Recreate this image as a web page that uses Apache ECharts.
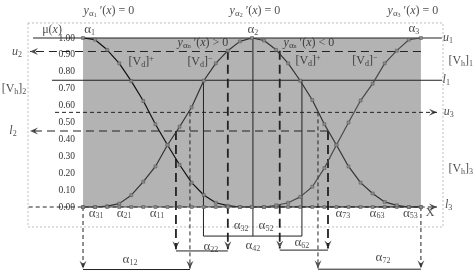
<!DOCTYPE html>
<html><head><meta charset="utf-8">
<script src="https://cdn.jsdelivr.net/npm/echarts@6/dist/echarts.min.js"></script>
<style>html,body{margin:0;padding:0;background:#fff}#c{width:474px;height:272px}</style>
</head><body><div id="c"></div>
<script>
// ---- data ----
const xSamples = [0,1,2,3,4,5,6,7,8,9,10,11,12,13,14,15,16,17,18,19,20,21,22,23,24,25,26,27,28];
const mu1 = [1.00,0.99,0.93,0.85,0.745,0.627,0.49,0.367,0.25,0.144,0.071,0.025,0.008,0,0,0,0,0,0,0,0,0,0,0,0,0,0,0,0];
const mu2 = [0,0,0.005,0.02,0.07,0.15,0.24,0.367,0.475,0.59,0.747,0.85,0.925,0.98,1.00,0.985,0.93,0.85,0.747,0.633,0.49,0.367,0.24,0.144,0.08,0.03,0.01,0,0];
const mu3 = [0,0,0,0,0,0,0,0,0,0,0,0,0,0,0,0,0.01,0.025,0.06,0.12,0.23,0.367,0.50,0.63,0.73,0.85,0.925,0.99,1.00];
const yTickValues = [0,0.1,0.2,0.3,0.4,0.5,0.6,0.7,0.8,0.9,1.0];
const shadedBox = [[0,1.0],[28,1.0]];           // grey region: x 0..28, mu 0..1
const xExtent = [-4.56, 29.83];                 // frame extent on x

// reference segments: [x1, y1, x2, y2, arrowAtEnd]
const solidSegments = [
  [-4.14,1.0,29.74,1.0,0],      // u1
  [-2.57,0.75,29.74,0.75,0],    // l1
  [9.98,0.75,9.98,-0.172,0],
  [14.08,1.0,14.08,-0.172,0],
  [18.14,0.75,18.14,-0.172,0],
  [9.98,-0.172,18.14,-0.172,0],
  [7.7,-0.26,12.0,-0.26,0],     // alpha22
  [16.3,-0.255,20.3,-0.255,0],  // alpha62
  [0,-0.37,8.86,-0.37,0],       // alpha12
  [19.47,-0.368,28,-0.368,0]    // alpha72
];
const longDashH = [
  [28,0.92,-4.39,0.92,1],       // u2
  [20.3,0.45,-4.39,0.45,1]      // l2
];
const longDashV = [
  [7.7,0.45,7.7,-0.25,1],
  [12.0,0.925,12.0,-0.25,1],
  [16.3,0.925,16.3,-0.245,1],
  [20.3,0.45,20.3,-0.245,1]
];
const shortDash = [
  [-2.32,0.56,29.33,0.56,1],    // u3
  [-4.5,0,29.33,0,1],           // l3
  [8.86,0.56,8.86,-0.365,1],
  [19.47,0.56,19.47,-0.363,1],
  [0,0,0,-0.365,1],
  [28,0,28,-0.363,1]
];
const frame = [[-4.56,1.089],[29.83,1.089],[29.83,-0.118],[-4.56,-0.118],[-4.56,1.089]];

// text notes: [x, y, rich text]
const notes = [
  [2.15,1.158,'{i|y}{ga|α}{ss|1}{r| ′(}{i|x}{r|) = 0}'],
  [14.25,1.158,'{i|y}{ga|α}{ss|2}{r| ′(}{i|x}{r|) = 0}'],
  [27.34,1.158,'{i|y}{ga|α}{ss|3}{r| ′(}{i|x}{r|) = 0}'],
  [0.55,1.05,'{g|α}{s|1}'],
  [14.08,1.05,'{g|α}{s|2}'],
  [27.42,1.055,'{g|α}{s|3}'],
  [-2.57,1.047,'{r|μ(}{i|x}{r|)}'],
  [9.94,0.972,'{i2|y}{ga|α}{ss|n}{r2| ′(}{i2|x}{r2|) > 0}'],
  [18.72,0.972,'{i2|y}{ga|α}{ss|n}{r2| ′(}{i2|x}{r2|) < 0}'],
  [4.81,0.858,'{r|[V}{s|d}{r|]}{sup|+}'],
  [9.69,0.858,'{r|[V}{s|d}{r|]}{sup|−}'],
  [18.64,0.862,'{r|[V}{s|d}{r|]}{sup|+}'],
  [23.36,0.862,'{r|[V}{s|d}{r|]}{sup|−}'],
  [30.24,1.0,'{i|u}{s|1}'],
  [31.3,0.865,'{r|[V}{s|h}{r|]}{s|1}'],
  [30.1,0.751,'{i|l}{s|1}'],
  [30.3,0.562,'{i|u}{s|3}'],
  [31.3,0.225,'{r|[V}{s|h}{r|]}{s|3}'],
  [30.3,0.012,'{i|l}{s|3}'],
  [-5.47,0.917,'{i|u}{s|2}'],
  [-5.72,0.698,'{r|[V}{s|h}{r|]}{s|2}'],
  [-5.8,0.45,'{i|l}{s|2}'],
  [1.08,-0.036,'{g|α}{s|31}'],
  [3.40,-0.036,'{g|α}{s|21}'],
  [6.13,-0.036,'{g|α}{s|11}'],
  [21.54,-0.036,'{g|α}{s|73}'],
  [24.36,-0.036,'{g|α}{s|63}'],
  [27.13,-0.036,'{g|α}{s|53}'],
  [28.75,-0.036,'{r|X}'],
  [13.1,-0.112,'{g|α}{s|32}'],
  [15.16,-0.112,'{g|α}{s|52}'],
  [14.08,-0.231,'{g|α}{s|42}'],
  [10.6,-0.235,'{g|α}{s|22}'],
  [18.14,-0.213,'{g|α}{s|62}'],
  [3.89,-0.314,'{g|α}{s|12}'],
  [24.86,-0.302,'{g|α}{s|72}']
];

// ---- styles ----
const SERIF = 'Liberation Serif';
const INK = '#222';
const rich = {
  i:  {fontFamily:SERIF, fontStyle:'italic', fontSize:12, lineHeight:14, color:INK},
  r:  {fontFamily:SERIF, fontSize:12, lineHeight:14, color:INK},
  i2: {fontFamily:SERIF, fontStyle:'italic', fontSize:12, lineHeight:14, color:INK},
  r2: {fontFamily:SERIF, fontSize:12, lineHeight:14, color:INK},
  g:  {fontFamily:SERIF, fontSize:13, lineHeight:14, color:INK},
  s:  {fontFamily:SERIF, fontSize:8, lineHeight:8, verticalAlign:'bottom', color:INK},
  ga: {fontFamily:SERIF, fontSize:9, lineHeight:10, verticalAlign:'bottom', color:INK},
  ss: {fontFamily:SERIF, fontSize:6, lineHeight:6, verticalAlign:'bottom', color:INK},
  sup:{fontFamily:SERIF, fontSize:8, lineHeight:8, verticalAlign:'top', color:INK}
};
const ARROW = {
  down: 'path://M0,0 L5,3.5 L10,0 L5,9 Z',
  up: 'path://M0,9 L5,5.5 L10,9 L5,0 Z',
  left: 'path://M9,0 L5.5,5 L9,10 L0,5 Z',
  right: 'path://M0,0 L3.5,5 L0,10 L9,5 Z'
};

function segSeries(segs, style) {
  return segs.map(s => ({
    type:'line', data:[[s[0],s[1]],[s[2],s[3]]], clip:false, silent:true,
    symbol:'none', lineStyle:Object.assign({color:INK}, style), z:3
  }));
}
function arrowData(segs) {
  const out = [];
  segs.forEach(s => {
    if (!s[4]) return;
    const dx = s[2]-s[0], dy = s[3]-s[1];
    let dir, off;
    if (Math.abs(dx) > Math.abs(dy)) { dir = dx > 0 ? 'right' : 'left'; off = dx > 0 ? ['-50%',0] : ['50%',0]; }
    else { dir = dy < 0 ? 'down' : 'up'; off = dy < 0 ? [0,'-50%'] : [0,'50%']; }
    const horiz = dir === 'left' || dir === 'right';
    out.push({value:[s[2],s[3]], symbol:ARROW[dir], symbolSize: horiz ? [8,7] : [7,8], symbolOffset:off});
  });
  return out;
}
function curve(vals, color) {
  return {
    type:'line', data:xSamples.map((x,k)=>[x,vals[k]]), clip:false, z:5,
    symbol:'rect', symbolSize:3, showAllSymbol:true,
    lineStyle:{color:color, width:1.2},
    itemStyle:{color:'#8c8c8c', borderColor:'#555', borderWidth:0.5}
  };
}

const allSegs = solidSegments.concat(longDashH, longDashV, shortDash);
const series = [].concat(
  [{type:'line', data:shadedBox, silent:true, symbol:'none', lineStyle:{width:0},
    areaStyle:{color:'#b3b3b3', opacity:1, origin:'start'}, z:0}],
  [{type:'line', data:frame, clip:false, silent:true, symbol:'none', lineStyle:{color:'#bdbdbd', width:1, type:[2,2]}, z:1}],
  segSeries(solidSegments, {width:1}),
  segSeries(longDashH, {width:1.1, type:[8,5]}),
  segSeries(longDashV, {width:1.8, type:[9,5]}),
  segSeries(shortDash, {width:1, type:[4,3]}),
  [curve(mu1,'#111'), curve(mu2,'#333'), curve(mu3,'#4a4a4a')],
  [{type:'scatter', data:arrowData(allSegs), clip:false, silent:true, itemStyle:{color:INK}, z:6}],
  [{type:'scatter', clip:false, silent:true, symbolSize:0, z:7,
    data:notes.map(n=>({value:[n[0],n[1]], label:{formatter:n[2]}})),
    label:{show:true, position:'inside', rich:rich}}]
);

const chart = echarts.init(document.getElementById('c'), null, {renderer:'canvas'});
chart.setOption({
  animation:false,
  backgroundColor:'#fff',
  grid:{left:28, right:31, top:38, bottom:65, show:false},
  xAxis:{type:'value', min:xExtent[0], max:xExtent[1], show:false},
  yAxis:{type:'value', min:yTickValues[0], max:yTickValues[yTickValues.length-1], interval:0.1,
    offset:-55,
    axisLine:{show:false, onZero:false}, axisTick:{show:false}, splitLine:{show:false},
    axisLabel:{formatter:v=>v.toFixed(2), fontFamily:SERIF, fontSize:9.5, color:'#333', margin:8}},
  series:series
});
</script></body></html>
